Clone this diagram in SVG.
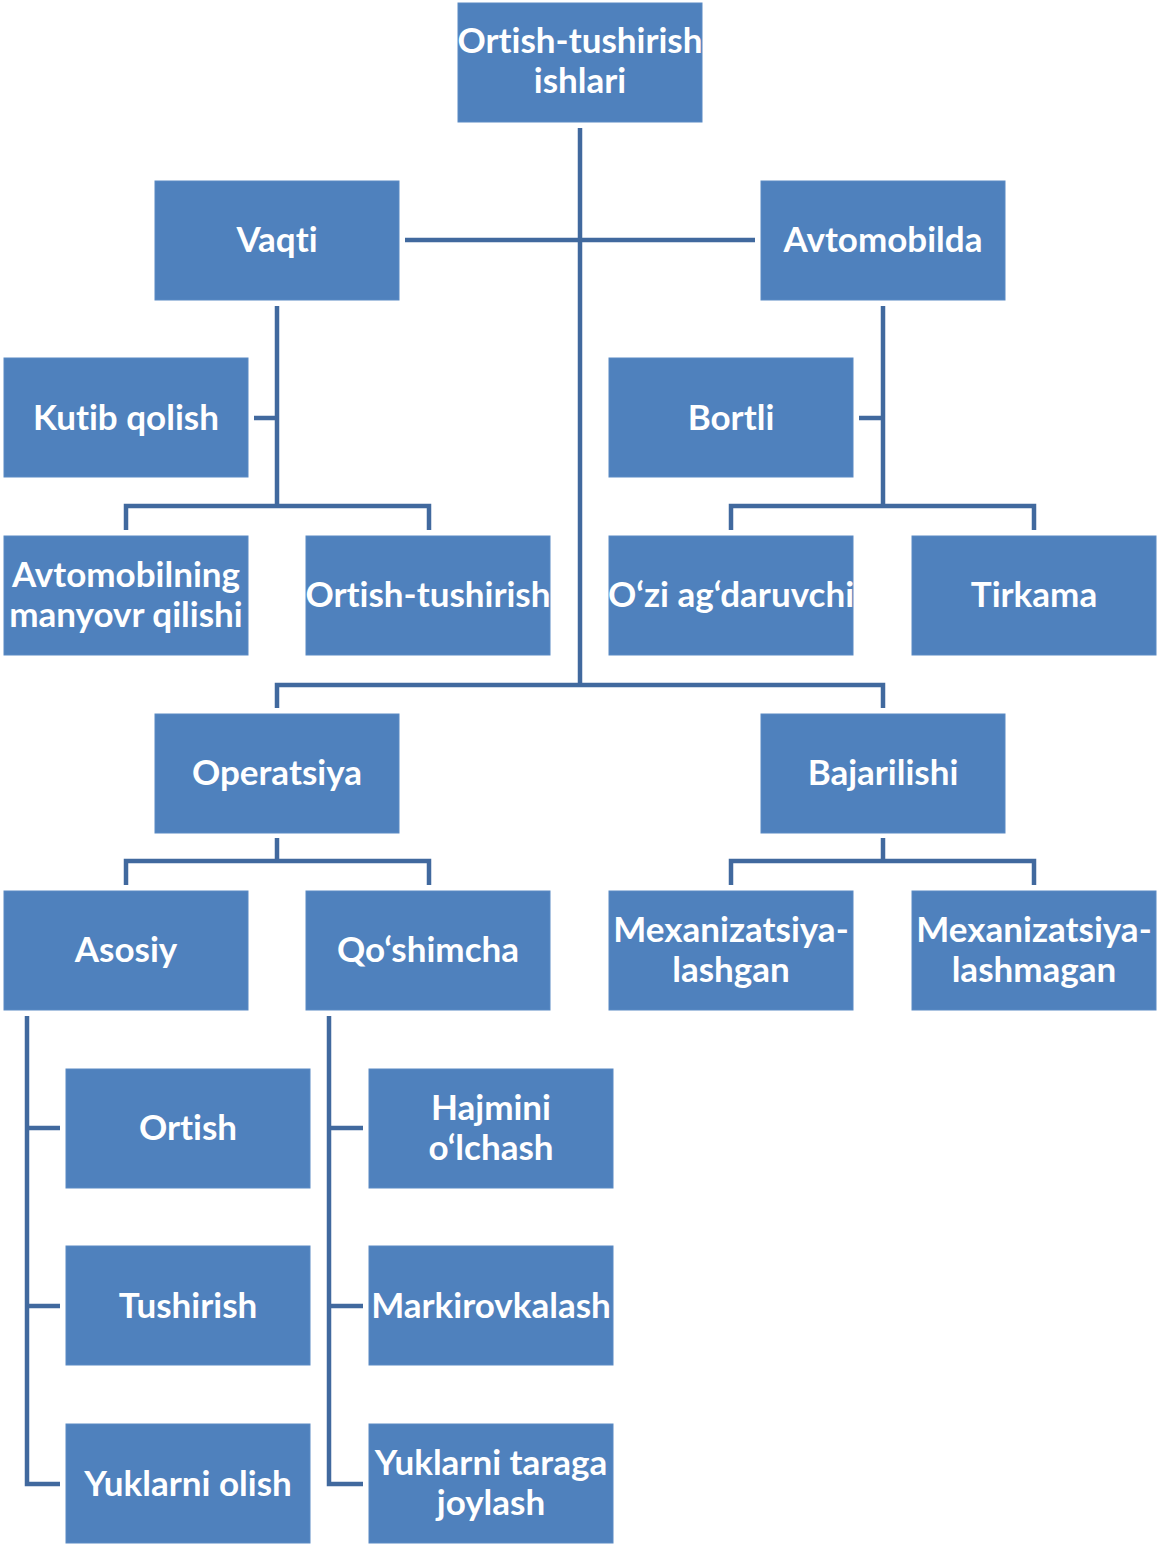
<svg xmlns="http://www.w3.org/2000/svg" width="1157" height="1544" viewBox="0 0 1157 1544">
<style>
.b{fill:#4F81BD;stroke:#5A8AC4;stroke-width:1}
.t{fill:#FFFFFF;font-family:Lato,"Open Sans","Liberation Sans",sans-serif;font-weight:bold;font-size:35px;text-anchor:middle;font-variant-ligatures:none}
.c{fill:none;stroke:#41699E;stroke-width:4.5;stroke-linejoin:miter}
</style>
<rect width="1157" height="1544" fill="#FFFFFF"/>
<g id="connectors">
<path class="c" d="M580 128V685M405 240H755"/>
<path class="c" d="M277 306V506M254 418H277M126 530V506H429V530"/>
<path class="c" d="M883 306V506M859 418H883M731 530V506H1034V530"/>
<path class="c" d="M277 708V685H883V708"/>
<path class="c" d="M277 838V861M126 885V861H429V885"/>
<path class="c" d="M883 838V861M731 885V861H1034V885"/>
<path class="c" d="M27 1016V1484H60M27 1128H60M27 1306H60"/>
<path class="c" d="M329 1016V1484H363M329 1128H363M329 1306H363"/>
</g>
<g id="n-root"><rect class="b" x="458" y="3" width="244" height="119"/><text class="t" x="580" y="53">Ortish-tushirish</text><text class="t" x="580" y="93">ishlari</text></g>
<g id="n-vaqti"><rect class="b" x="155" y="181" width="244" height="119"/><text class="t" x="277" y="252">Vaqti</text></g>
<g id="n-avtomobilda"><rect class="b" x="761" y="181" width="244" height="119"/><text class="t" x="883" y="252">Avtomobilda</text></g>
<g id="n-kutib"><rect class="b" x="4" y="358" width="244" height="119"/><text class="t" x="126" y="430">Kutib qolish</text></g>
<g id="n-bortli"><rect class="b" x="609" y="358" width="244" height="119"/><text class="t" x="731" y="430">Bortli</text></g>
<g id="n-manyovr"><rect class="b" x="4" y="536" width="244" height="119"/><text class="t" x="126" y="587">Avtomobilning</text><text class="t" x="126" y="627">manyovr qilishi</text></g>
<g id="n-ortish-tushirish"><rect class="b" x="306" y="536" width="244" height="119"/><text class="t" x="428" y="607">Ortish-tushirish</text></g>
<g id="n-ozi"><rect class="b" x="609" y="536" width="244" height="119"/><text class="t" x="731" y="607">O‘zi ag‘daruvchi</text></g>
<g id="n-tirkama"><rect class="b" x="912" y="536" width="244" height="119"/><text class="t" x="1034" y="607">Tirkama</text></g>
<g id="n-operatsiya"><rect class="b" x="155" y="714" width="244" height="119"/><text class="t" x="277" y="785">Operatsiya</text></g>
<g id="n-bajarilishi"><rect class="b" x="761" y="714" width="244" height="119"/><text class="t" x="883" y="785">Bajarilishi</text></g>
<g id="n-asosiy"><rect class="b" x="4" y="891" width="244" height="119"/><text class="t" x="126" y="962">Asosiy</text></g>
<g id="n-qoshimcha"><rect class="b" x="306" y="891" width="244" height="119"/><text class="t" x="428" y="962">Qo‘shimcha</text></g>
<g id="n-mex1"><rect class="b" x="609" y="891" width="244" height="119"/><text class="t" x="731" y="942">Mexanizatsiya-</text><text class="t" x="731" y="982">lashgan</text></g>
<g id="n-mex2"><rect class="b" x="912" y="891" width="244" height="119"/><text class="t" x="1034" y="942">Mexanizatsiya-</text><text class="t" x="1034" y="982">lashmagan</text></g>
<g id="n-ortish"><rect class="b" x="66" y="1069" width="244" height="119"/><text class="t" x="188" y="1140">Ortish</text></g>
<g id="n-tushirish"><rect class="b" x="66" y="1246" width="244" height="119"/><text class="t" x="188" y="1318">Tushirish</text></g>
<g id="n-yuklarni-olish"><rect class="b" x="66" y="1424" width="244" height="119"/><text class="t" x="188" y="1496">Yuklarni olish</text></g>
<g id="n-hajmini"><rect class="b" x="369" y="1069" width="244" height="119"/><text class="t" x="491" y="1120">Hajmini</text><text class="t" x="491" y="1160">o‘lchash</text></g>
<g id="n-markirovka"><rect class="b" x="369" y="1246" width="244" height="119"/><text class="t" x="491" y="1318">Markirovkalash</text></g>
<g id="n-taraga"><rect class="b" x="369" y="1424" width="244" height="119"/><text class="t" x="491" y="1475">Yuklarni taraga</text><text class="t" x="491" y="1515">joylash</text></g>
</svg>
